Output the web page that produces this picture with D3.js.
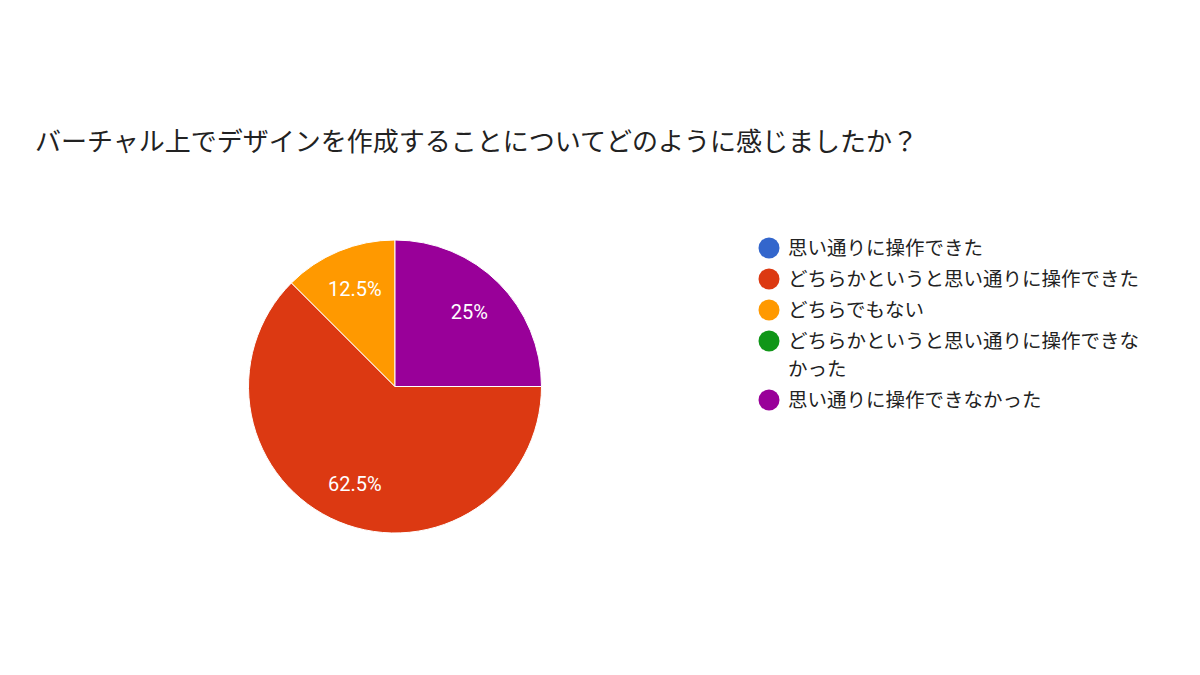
<!DOCTYPE html>
<html>
<head>
  <meta charset="utf-8">
  <style>
    body{
      margin:0;
      background:#fff;
      font-family: "Noto Sans CJK JP", "Noto Sans", sans-serif;
    }
    .title{
      fill:#222;
      font-size:26px;
    }
    .legend-label{
      fill:#222;
      font-size:19.5px;
    }
    .slice-label{
      fill:#fff;
      font-family: Roboto, "Liberation Sans", sans-serif;
      font-size:20px;
    }
  </style>
  <script src="https://d3js.org/d3.v7.min.js"></script>
</head>
<body>
<div class="chart"></div>
<script>
// legend order
const categories = [
  '思い通りに操作できた',
  'どちらかというと思い通りに操作できた',
  'どちらでもない',
  'どちらかというと思い通りに操作できなかった',
  '思い通りに操作できなかった'
];
const values = [0, 62.5, 12.5, 0, 25];
const colors = ['#3366cc', '#dc3912', '#ff9900', '#109618', '#990099'];
// legend lines (the long one wraps)
const legendLines = [
  ['思い通りに操作できた'],
  ['どちらかというと思い通りに操作できた'],
  ['どちらでもない'],
  ['どちらかというと思い通りに操作できな', 'かった'],
  ['思い通りに操作できなかった']
];
// order the slices go round the pie, clockwise from 12 o'clock
const drawOrder = [4, 1, 2, 0, 3];

const width = 1200;
const height = 675;

const svg = d3.select('.chart')
  .append('svg')
  .attr('width', width)
  .attr('height', height);

svg.append('text')
  .attr('class', 'title')
  .attr('x', 35)
  .attr('y', 151)
  .text('バーチャル上でデザインを作成することについてどのように感じましたか？');

const cx = 395, cy = 386.5, r = 146.5;

const rows = categories.map((c, i) => ({name: c, value: values[i], color: colors[i], idx: i}));

const pie = d3.pie()
  .sort((a, b) => drawOrder.indexOf(a.idx) - drawOrder.indexOf(b.idx))
  .value(d => d.value);

const arcs = pie(rows).filter(d => d.data.value > 0);

const arc = d3.arc().innerRadius(0).outerRadius(r);
const labelArc = d3.arc().innerRadius(105).outerRadius(105);

const g = svg.append('g').attr('transform', `translate(${cx},${cy})`);

g.selectAll('path')
  .data(arcs)
  .join('path')
  .attr('d', arc)
  .attr('fill', d => d.data.color)
  .attr('stroke', '#fff')
  .attr('stroke-width', 1);

g.selectAll('.slice-label')
  .data(arcs)
  .join('text')
  .attr('class', 'slice-label')
  .attr('transform', d => `translate(${labelArc.centroid(d)})`)
  .attr('text-anchor', 'middle')
  .attr('dy', '0.35em')
  .text(d => `${d.data.value}%`);

// legend
const legendX = 769;
const lineH = 31;
const wrapH = 28;
let y = 248;
const legend = svg.append('g');
rows.forEach((d, i) => {
  legend.append('circle')
    .attr('cx', legendX)
    .attr('cy', y)
    .attr('r', 10.5)
    .attr('fill', d.color);
  legendLines[i].forEach((line, j) => {
    legend.append('text')
      .attr('class', 'legend-label')
      .attr('x', legendX + 19)
      .attr('y', y + j * wrapH)
      .attr('dy', '0.35em')
      .text(line);
  });
  y += lineH + (legendLines[i].length - 1) * wrapH;
});
</script>
</body>
</html>
